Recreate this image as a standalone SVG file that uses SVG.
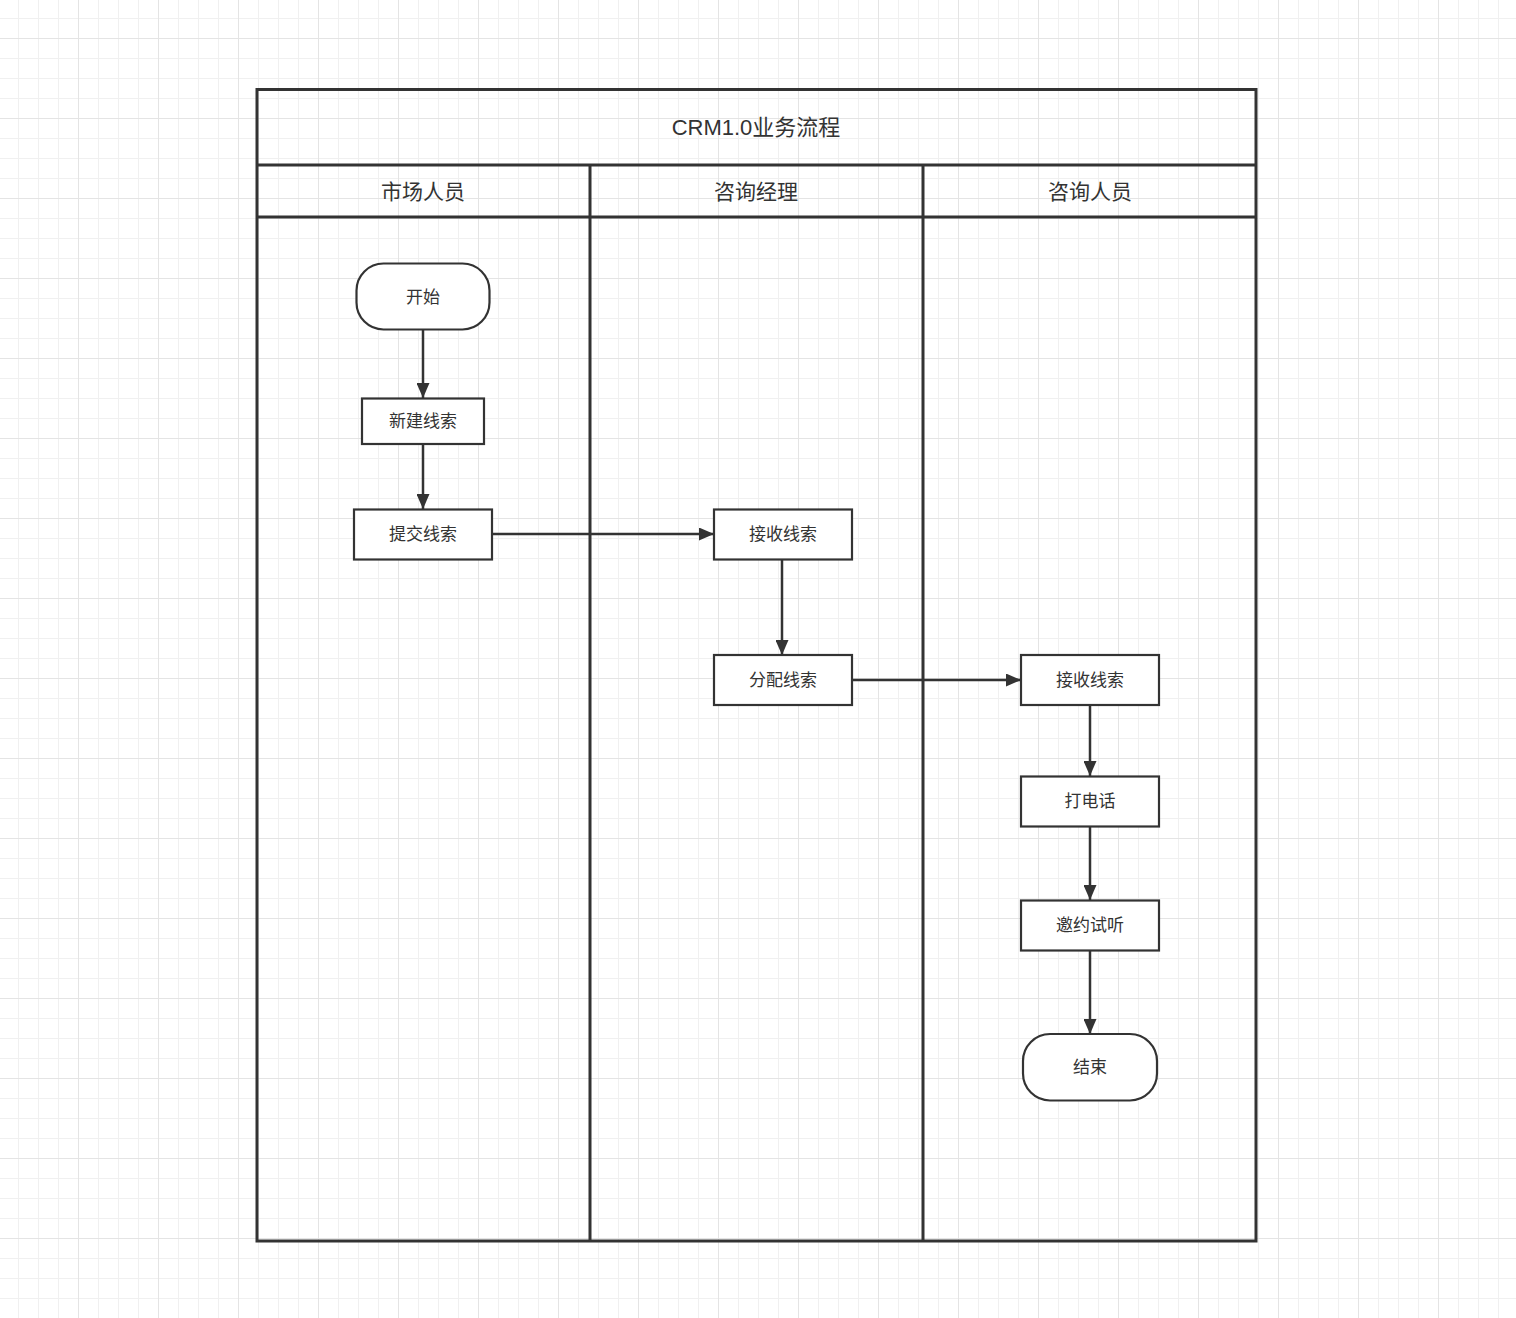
<svg xmlns="http://www.w3.org/2000/svg" width="1516" height="1318" viewBox="0 0 1516 1318">
<defs>
<pattern id="grid" patternUnits="userSpaceOnUse" x="78" y="38" width="80" height="80">
<rect x="20" y="0" width="1" height="80" fill="#f0f0f0"/>
<rect x="40" y="0" width="1" height="80" fill="#f0f0f0"/>
<rect x="60" y="0" width="1" height="80" fill="#f0f0f0"/>
<rect x="0" y="20" width="80" height="1" fill="#f0f0f0"/>
<rect x="0" y="40" width="80" height="1" fill="#f0f0f0"/>
<rect x="0" y="60" width="80" height="1" fill="#f0f0f0"/>
<rect x="0" y="0" width="1" height="80" fill="#e4e4e4"/>
<rect x="0" y="0" width="80" height="1" fill="#e4e4e4"/>
</pattern>
<marker id="arrow" markerUnits="userSpaceOnUse" markerWidth="15" markerHeight="13" refX="15" refY="6.5" orient="auto">
<path d="M0,0 L15,6.5 L0,13 z" fill="#333"/>
</marker>
</defs>
<style>
text{font-family:"Liberation Sans","Noto Sans CJK SC",sans-serif;fill:#333;text-anchor:middle;dominant-baseline:central}
.lane{fill:none;stroke:#333;stroke-width:3}
.node{fill:#fff;stroke:#333;stroke-width:2.2}
.edge{fill:none;stroke:#333;stroke-width:2.5;marker-end:url(#arrow)}
.title{font-size:22px}
.head{font-size:21px}
.lbl{font-size:17px}
</style>
<rect width="1516" height="1318" fill="#fff"/>
<rect width="1516" height="1318" fill="url(#grid)"/>

<g id="pool">
<rect x="257" y="89.5" width="999" height="1151.5" class="lane"/>
<line x1="257" y1="165" x2="1256" y2="165" class="lane"/>
<line x1="257" y1="217" x2="1256" y2="217" class="lane"/>
<line x1="590" y1="165" x2="590" y2="1241" class="lane"/>
<line x1="923" y1="165" x2="923" y2="1241" class="lane"/>
<text x="756" y="127" class="title">CRM1.0业务流程</text>
</g>
<g id="lane-market"><text x="423" y="191" class="head">市场人员</text></g>
<g id="lane-manager"><text x="756" y="191" class="head">咨询经理</text></g>
<g id="lane-consultant"><text x="1090" y="191" class="head">咨询人员</text></g>

<g id="edges">
<line x1="423" y1="330" x2="423" y2="398" class="edge"/>
<line x1="423" y1="444" x2="423" y2="509" class="edge"/>
<line x1="492" y1="534" x2="714" y2="534" class="edge"/>
<line x1="782" y1="559" x2="782" y2="655" class="edge"/>
<line x1="852" y1="680" x2="1021" y2="680" class="edge"/>
<line x1="1090" y1="705" x2="1090" y2="776" class="edge"/>
<line x1="1090" y1="826" x2="1090" y2="900" class="edge"/>
<line x1="1090" y1="950" x2="1090" y2="1034" class="edge"/>
</g>

<g id="start"><rect x="356.5" y="263.5" width="133" height="66" rx="27" ry="27" class="node"/><text x="423" y="297" class="lbl">开始</text></g>
<g id="new-lead"><rect x="362" y="398.5" width="122" height="45.5" class="node"/><text x="423" y="421" class="lbl">新建线索</text></g>
<g id="submit-lead"><rect x="354" y="509.5" width="138" height="50" class="node"/><text x="423" y="534.5" class="lbl">提交线索</text></g>
<g id="receive-lead-mgr"><rect x="714" y="509.5" width="138" height="50" class="node"/><text x="783" y="534.5" class="lbl">接收线索</text></g>
<g id="assign-lead"><rect x="714" y="655" width="138" height="50" class="node"/><text x="783" y="680" class="lbl">分配线索</text></g>
<g id="receive-lead-con"><rect x="1021" y="655" width="138" height="50" class="node"/><text x="1090" y="680" class="lbl">接收线索</text></g>
<g id="call"><rect x="1021" y="776.5" width="138" height="50" class="node"/><text x="1090" y="801.5" class="lbl">打电话</text></g>
<g id="invite"><rect x="1021" y="900.5" width="138" height="50" class="node"/><text x="1090" y="925.5" class="lbl">邀约试听</text></g>
<g id="end"><rect x="1023" y="1034" width="134" height="66.5" rx="27" ry="27" class="node"/><text x="1090" y="1067.5" class="lbl">结束</text></g>
</svg>
